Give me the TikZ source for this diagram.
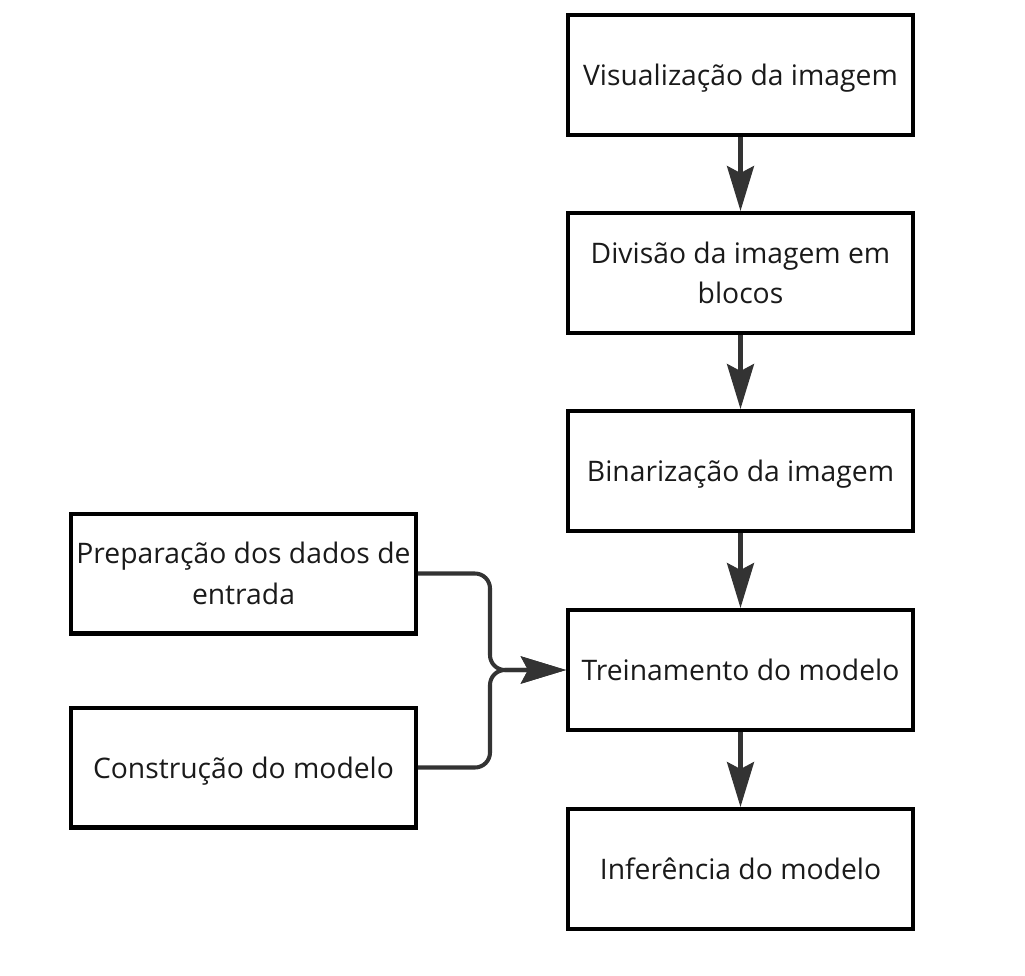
\documentclass[tikz,border=0pt]{standalone}
\usepackage{fontspec}
\setmainfont{Open Sans}
\usepackage{tikz}
\usetikzlibrary{arrows.meta}
\definecolor{linegray}{HTML}{333333}
\definecolor{txt}{HTML}{1A1A1A}

\begin{document}
\begin{tikzpicture}[x=0.02cm, y=-0.02cm,
    blk/.style={draw=black, line width=2.3pt, minimum height=2.4cm, minimum width=6.9cm,
                align=center, inner sep=0pt, text=txt, font=\fontsize{16.1}{23.2}\selectfont},
    one/.style={blk, text height=1.25em, text depth=0pt},
    arr/.style={draw=linegray, line width=2.3pt,
                -{Stealth[length=0.9cm, width=0.54cm, inset=0.14cm]}},
    jn/.style={arr, rounded corners=0.3cm}
  ]
  \useasboundingbox (0,0) rectangle (1025,975);

  \node[one] (vis)   at (740.5,75)  {Visualização da imagem};
  \node[blk] (div)   at (740.5,273) {Divisão da imagem em\\blocos};
  \node[one] (bin)   at (740.5,471) {Binarização da imagem};
  \node[one] (train) at (740.5,670) {Treinamento do modelo};
  \node[one] (inf)   at (740.5,869) {Inferência do modelo};
  \node[blk] (prep)  at (243.5,573.5) {Preparação dos dados de\\entrada};
  \node[one] (cons)  at (243.5,767.5) {Construção do modelo};

  \draw[arr] (vis) -- (div);
  \draw[arr] (div) -- (bin);
  \draw[arr] (bin) -- (train);
  \draw[arr] (train) -- (inf);

  \coordinate (j) at (490,670);
  \draw[jn] (prep.east) -| (j) -- (train.west);
  \draw[jn] (cons.east) -| (j) -- (train.west);
\end{tikzpicture}
\end{document}
